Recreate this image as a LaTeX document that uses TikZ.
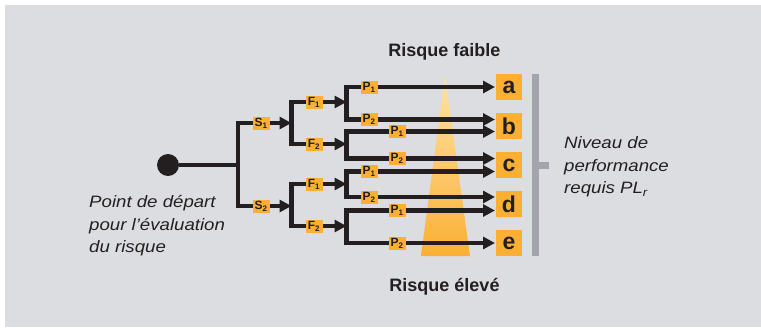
\documentclass[tikz,border=0pt]{standalone}
\usepackage{fontspec}
\setmainfont{Liberation Sans}
\newfontfamily\labfont[FakeStretch=1.13]{Liberation Sans}
\usetikzlibrary{arrows.meta}
\definecolor{bg}{HTML}{DCDDE1}
\definecolor{org}{HTML}{FBB034}
\definecolor{orglight}{HTML}{FEE3A8}
\definecolor{ink}{HTML}{231F20}
\definecolor{bar}{HTML}{A2A6AC}
\begin{document}
\begin{tikzpicture}[x=1pt,y=-1pt,
  conn/.style={draw=ink,line width=4.4pt},
  arr/.style={conn,-{Triangle[length=12pt,width=12pt]}},
  tag/.style={fill=org,inner sep=0pt,minimum width=17pt,minimum height=13pt,font=\bfseries\fontsize{12}{12}\selectfont,text=ink},
  lvl/.style={fill=org,inner sep=0pt,minimum size=26pt,font=\bfseries\fontsize{23}{23}\selectfont,text=ink},
  note/.style={font=\labfont\itshape\fontsize{16.5}{22.7}\selectfont,text=ink,align=left,inner sep=0pt},
  head/.style={font=\bfseries\fontsize{18}{18}\selectfont,text=ink,inner sep=0pt}]
\useasboundingbox (0,0) rectangle (761,327);
\fill[white] (0,0) rectangle (761,327);
\fill[bg] (5,5) rectangle (761,327);
% risk triangle
\shade[top color=orglight, bottom color=org] (445,75) -- (470,256) -- (421,256) -- cycle;
% start point
\node[circle,fill=ink,minimum size=22pt,inner sep=0pt] (start) at (168,165) {};
\coordinate (s) at (238,165);
\coordinate (fS1) at (291.5,123);
\coordinate (fS2) at (291.5,206);
\coordinate (pA) at (346.5,102);
\coordinate (pB) at (346.5,144);
\coordinate (pC) at (346.5,184);
\coordinate (pD) at (346.5,226);
% level boxes
\node[lvl] (a) at (509,87) {a};
\node[lvl] (b) at (509,126) {b};
\node[lvl] (c) at (509,165) {c};
\node[lvl] (d) at (509,204) {d};
\node[lvl] (e) at (509,243) {e};
\coordinate (e1) at (495,87);
\coordinate (e2) at (495,119.5);
\coordinate (e3) at (495,131.5);
\coordinate (e4) at (495,158.5);
\coordinate (e5) at (495,171.5);
\coordinate (e6) at (495,197);
\coordinate (e7) at (495,210.5);
\coordinate (e8) at (495,243);
% connectors
\draw[conn] (start) -- (s);
\draw[arr] (s) |- (fS1);
\draw[arr] (s) |- (fS2);
\draw[arr] (fS1) |- (pA);
\draw[arr] (fS1) |- (pB);
\draw[arr] (fS2) |- (pC);
\draw[arr] (fS2) |- (pD);
\draw[arr] (pA) |- (e1);
\draw[arr] (pA) |- (e2);
\draw[arr] (pB) |- (e3);
\draw[arr] (pB) |- (e4);
\draw[arr] (pC) |- (e5);
\draw[arr] (pC) |- (e6);
\draw[arr] (pD) |- (e7);
\draw[arr] (pD) |- (e8);
% tags
\node[tag] (s1) at (261,123) {S\textsubscript{1}};
\node[tag] (s2) at (261,206) {S\textsubscript{2}};
\node[tag] (f11) at (314,102) {F\textsubscript{1}};
\node[tag] (f12) at (314,144) {F\textsubscript{2}};
\node[tag] (f21) at (314,184) {F\textsubscript{1}};
\node[tag] (f22) at (314,226) {F\textsubscript{2}};
\node[tag] (p1) at (369,87) {P\textsubscript{1}};
\node[tag] (p2) at (369,119.5) {P\textsubscript{2}};
\node[tag] (p3) at (397,131.5) {P\textsubscript{1}};
\node[tag] (p4) at (397,158.5) {P\textsubscript{2}};
\node[tag] (p5) at (369,171.5) {P\textsubscript{1}};
\node[tag] (p6) at (369,197) {P\textsubscript{2}};
\node[tag] (p7) at (397,210.5) {P\textsubscript{1}};
\node[tag] (p8) at (397,243) {P\textsubscript{2}};
% bracket
\fill[bar] (531.5,74) rectangle (538.5,256);
\fill[bar] (538.5,161.5) rectangle (549,168.5);
% texts
\node[head,anchor=base] (low) at (444.5,56.5) {Risque faible};
\node[head,anchor=base] (high) at (444.5,291.5) {Risque élevé};
\node[note,anchor=base west] (pl) at (564,193.7) {Niveau de\\performance\\requis PL\textsubscript{r}};
\node[note,anchor=base west] (sp) at (89,252.7) {Point de départ\\pour l’évaluation\\du risque};
\end{tikzpicture}
\end{document}
